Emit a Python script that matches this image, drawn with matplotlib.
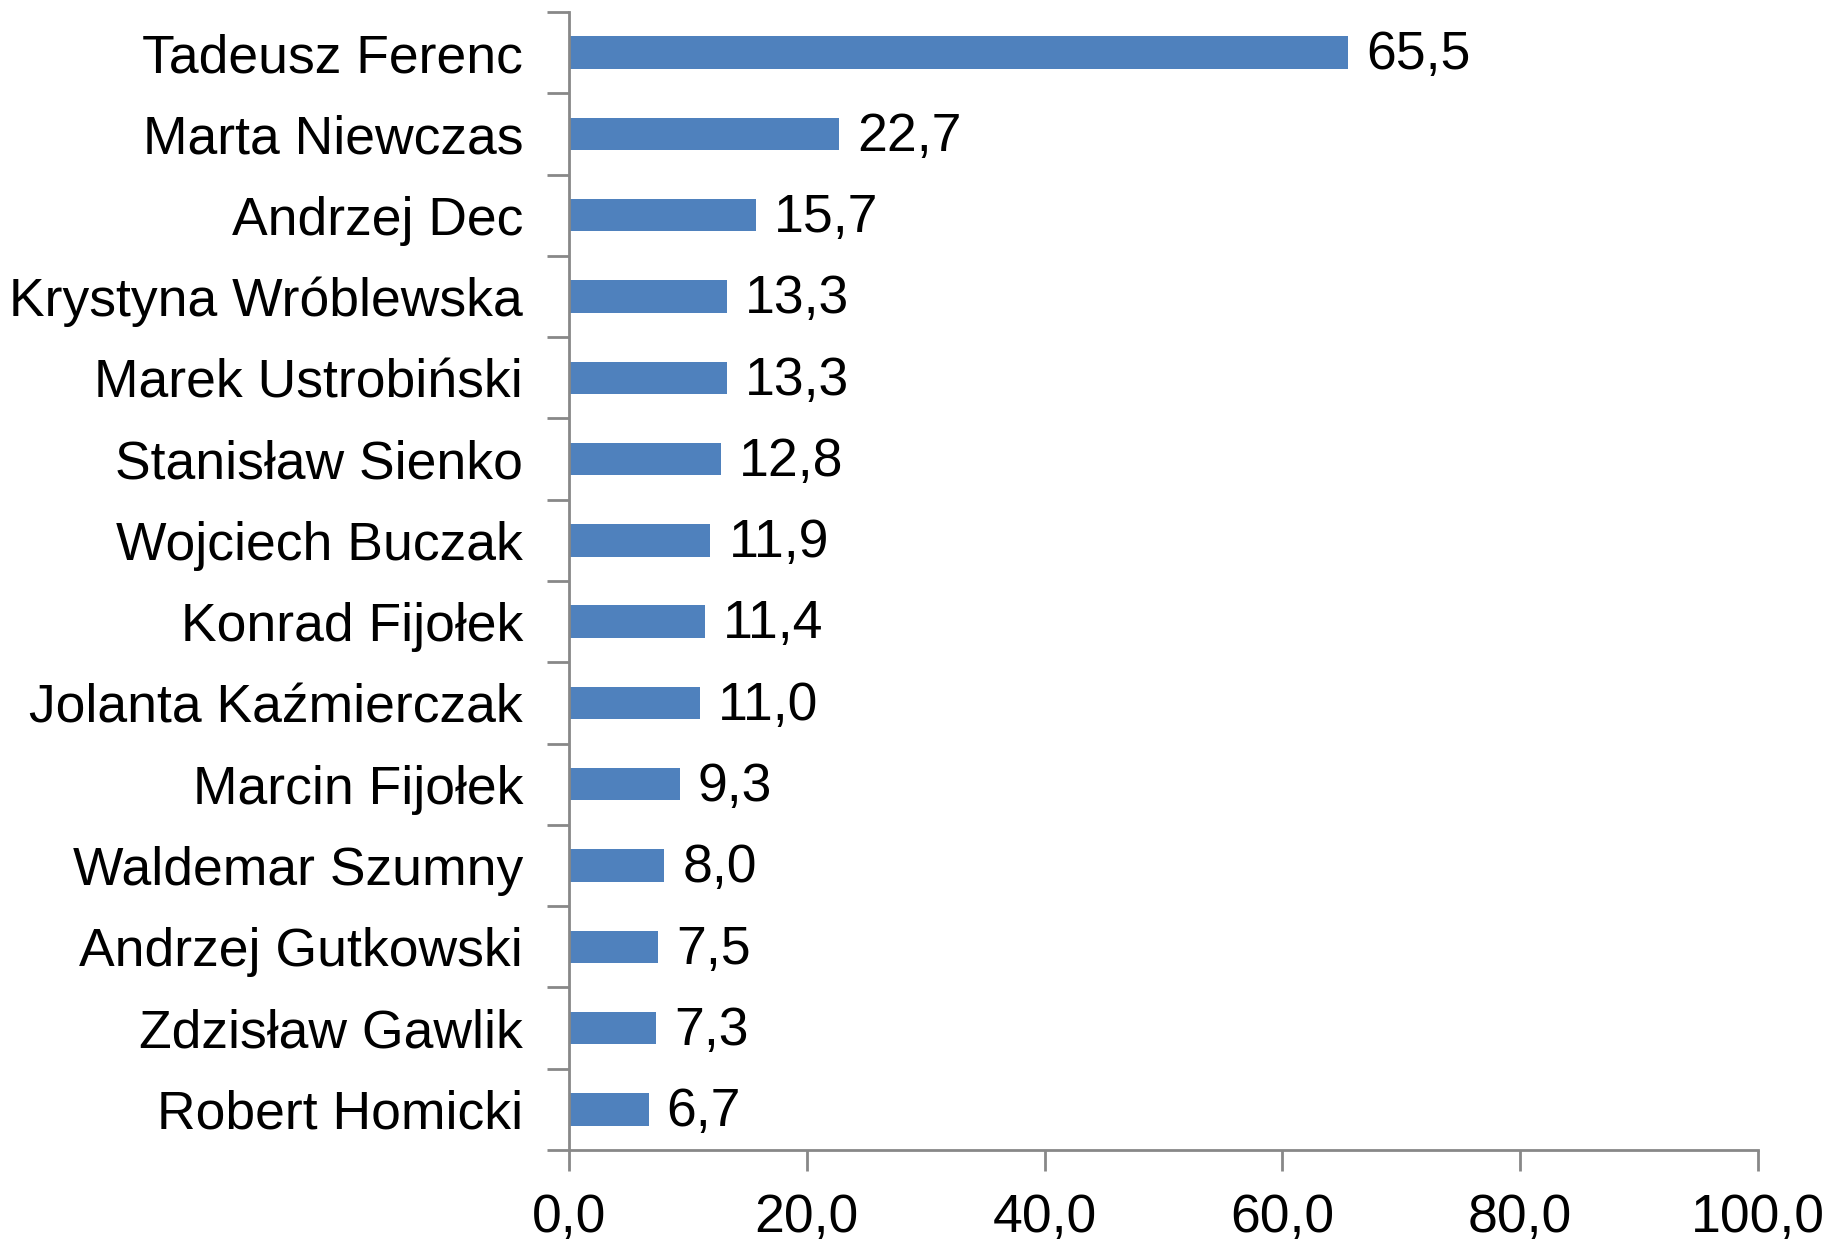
import matplotlib.pyplot as plt
import numpy as np

names = ["Tadeusz Ferenc", "Marta Niewczas", "Andrzej Dec", "Krystyna Wróblewska",
         "Marek Ustrobiński", "Stanisław Sienko", "Wojciech Buczak", "Konrad Fijołek",
         "Jolanta Kaźmierczak", "Marcin Fijołek", "Waldemar Szumny", "Andrzej Gutkowski",
         "Zdzisław Gawlik", "Robert Homicki"]
values = [65.5, 22.7, 15.7, 13.3, 13.3, 12.8, 11.9, 11.4, 11.0, 9.3, 8.0, 7.5, 7.3, 6.7]
xticks = [0, 20, 40, 60, 80, 100]

plt.rcParams['font.family'] = ['Liberation Sans', 'DejaVu Sans']

fig = plt.figure(figsize=(18.27, 12.39), dpi=100)
ax = fig.add_axes([569 / 1827, 1 - 1150 / 1239, (1758 - 569) / 1827, (1150 - 12) / 1239])

y = np.arange(len(names))
bars = ax.barh(y, values, height=0.40, color="#4f81bd")
for b, v in zip(bars, values):
    ax.annotate(f"{v:.1f}".replace(".", ","), (b.get_width(), b.get_y() + b.get_height() / 2),
                xytext=(13, -2), textcoords="offset points", va="center", ha="left",
                fontsize=38.5, color="black")

ax.set_ylim(len(names) - 0.5, -0.5)
ax.set_xlim(0, 100)
ax.set_yticks(np.arange(len(names) + 1) - 0.5, minor=False)
ax.set_yticklabels([])
ax.set_yticks(y, minor=True)
ax.set_yticklabels(names, minor=True, fontsize=38.5)
ax.tick_params(axis="y", which="minor", length=0, pad=33)
ax.tick_params(axis="y", which="major", length=16, width=2, color="#888888")

ax.set_xticks(xticks)
ax.set_xticklabels([f"{t:.1f}".replace(".", ",") for t in xticks], fontsize=38.5)
ax.tick_params(axis="x", length=15, width=2, color="#888888", pad=16)

for side in ["top", "right"]:
    ax.spines[side].set_visible(False)
for side in ["left", "bottom"]:
    ax.spines[side].set_color("#888888")
    ax.spines[side].set_linewidth(2)

fig.savefig("out.png", dpi=100)
